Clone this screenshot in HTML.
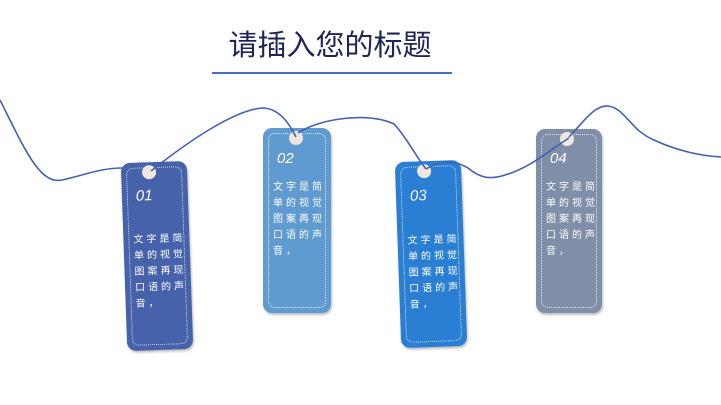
<!DOCTYPE html>
<html><head><meta charset="utf-8"><style>
html,body{margin:0;padding:0;background:#fff;}
body{width:721px;height:405px;position:relative;overflow:hidden;font-family:"Liberation Sans","Noto Sans CJK SC",sans-serif;}
.title{position:absolute;left:0;width:660px;top:28px;text-align:center;font-size:29px;color:#1f2456;line-height:36px;}
.line{position:absolute;left:212px;top:72px;width:240px;height:2px;background:#4a6cc0;}
.tag{position:absolute;border-radius:9px;box-shadow:1px 2px 2px rgba(0,0,0,0.25);}
.tag .in{position:absolute;left:5px;top:5px;right:5px;bottom:5px;border:1px dotted rgba(255,255,255,0.8);border-radius:7px;}
.tag .hole{position:absolute;top:3px;width:14px;height:14px;border-radius:50%;background:#f1e6df;}
.tag .num{position:absolute;left:14px;font-style:italic;font-size:15px;color:#fff;}
.tag .txt{position:absolute;left:10px;white-space:nowrap;font-size:10px;line-height:16px;color:#fff;letter-spacing:3px;}
svg{position:absolute;left:0;top:0;}
</style></head><body>
<div class="title">请插入您的标题</div>
<div class="line"></div>

<div class="tag" style="left:124px;top:162px;width:66px;height:188px;background:#4662aa;transform:rotate(-2deg);">
<div class="in"></div><div class="hole" style="left:21px"></div>
<div class="num" style="top:25px">01</div>
<div class="txt" style="top:70px">文字是简<br>单的视觉<br>图案再现<br>口语的声<br>音，</div></div>

<div class="tag" style="left:263px;top:128px;width:68px;height:185px;background:#5f9bd0;">
<div class="in"></div><div class="hole" style="left:26px"></div>
<div class="num" style="top:22px">02</div>
<div class="txt" style="top:52px">文字是简<br>单的视觉<br>图案再现<br>口语的声<br>音，</div></div>

<div class="tag" style="left:398px;top:161px;width:66px;height:186px;background:#2a7fd4;transform:rotate(-2deg);">
<div class="in"></div><div class="hole" style="left:22px"></div>
<div class="num" style="top:26px">03</div>
<div class="txt" style="top:72px">文字是简<br>单的视觉<br>图案再现<br>口语的声<br>音，</div></div>

<div class="tag" style="left:536px;top:129px;width:66px;height:184px;background:#7f8fa8;">
<div class="in"></div><div class="hole" style="left:24px"></div>
<div class="num" style="top:21px">04</div>
<div class="txt" style="top:51px">文字是简<br>单的视觉<br>图案再现<br>口语的声<br>音，</div></div>

<svg width="721" height="405" viewBox="0 0 721 405">
<g fill="none" stroke="#4460b0" stroke-width="1.6">
<path d="M0,100 C25,150 40,185 62,180 C85,175 100,168 123,168"/>
<path d="M151,171 C190,140 235,110 262,108 C280,108 290,125 296,137"/>
<path d="M298,133 C320,118 370,112 394,124 C405,135 415,155 426,169"/>
<path d="M426,169 C440,160 455,160 468,168 C480,178 490,180 505,175 C530,168 550,150 569,138"/>
<path d="M569,137 C585,120 595,105 608,106 C625,108 630,130 654,140 C675,150 700,156 721,157"/>
</g>
</svg>
</body></html>
